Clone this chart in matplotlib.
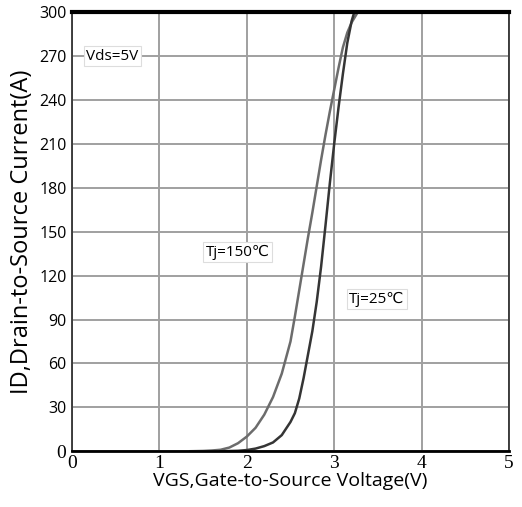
import matplotlib.pyplot as plt

# curve readings (VGS in V, ID in A)
vgs_150 = [1.35, 1.5, 1.6, 1.7, 1.8, 1.9, 2.0, 2.1, 2.2, 2.3, 2.4, 2.5, 2.55, 2.6, 2.65, 2.7,
           2.75, 2.8, 2.85, 2.9, 2.95, 3.0, 3.05, 3.1, 3.15, 3.2, 3.27]
id_150 = [0, 0.2, 0.5, 1, 2.5, 5.5, 10, 16, 25, 37, 53, 75, 92, 110, 128, 146,
          163, 181, 199, 216, 232, 247, 262, 276, 286, 293, 300]

vgs_25 = [1.7, 1.9, 2.0, 2.1, 2.2, 2.3, 2.4, 2.5, 2.55, 2.6, 2.65, 2.7, 2.75, 2.8, 2.85,
          2.9, 2.95, 3.0, 3.05, 3.1, 3.15, 3.2, 3.23]
id_25 = [0, 0.3, 0.8, 1.8, 3.5, 6, 11, 20, 26, 36, 50, 66, 82, 102, 126,
         154, 183, 210, 235, 258, 279, 294, 300]

x_ticks = [0, 1, 2, 3, 4, 5]
y_ticks = [0, 30, 60, 90, 120, 150, 180, 210, 240, 270, 300]

fig = plt.figure(figsize=(5.22, 5.07), dpi=100)
ax = fig.add_axes([0.138, 0.110, 0.837, 0.866])

ax.set_xlim(0, 5)
ax.set_ylim(0, 300)
ax.set_xticks(x_ticks)
ax.set_yticks(y_ticks)
ax.grid(True, color="#a0a0a0", linewidth=1.4)
ax.set_axisbelow(True)
ax.tick_params(length=0)

ax.plot(vgs_150, id_150, color="#6c6c6c", linewidth=1.8, solid_joinstyle="round")
ax.plot(vgs_25, id_25, color="#353535", linewidth=1.8, solid_joinstyle="round")

# tick labels: serif for x, sans for y (the y "0" is serif too)
ax.set_xticklabels([str(t) for t in x_ticks], family="Liberation Serif", fontsize=14)
ax.set_yticklabels([str(t) for t in y_ticks], family="Open Sans", fontsize=11.5)
ylabels = ax.get_yticklabels()
ylabels[0].set_family("Liberation Serif")
ylabels[0].set_fontsize(14)
ax.tick_params(axis="x", pad=3)
ax.tick_params(axis="y", pad=4)

for side in ["left", "right"]:
    ax.spines[side].set_linewidth(1.3)
    ax.spines[side].set_color("#333333")
ax.spines["top"].set_linewidth(3)
ax.spines["bottom"].set_linewidth(2)

ax.set_xlabel("VGS,Gate-to-Source Voltage(V)", family="Open Sans", fontsize=14, labelpad=0)
ax.set_ylabel("ID,Drain-to-Source Current(A)", family="Open Sans", fontsize=17, labelpad=4)

box = dict(boxstyle="square,pad=0.15", facecolor="white", edgecolor="#dddddd", linewidth=0.8)
ax.text(0.16, 270, "Vds=5V", family=["Open Sans", "DejaVu Sans"], fontsize=11, va="center", ha="left", bbox=box)
ax.text(1.53, 136, "Tj=150℃", family=["Open Sans", "DejaVu Sans"], fontsize=11, va="center", ha="left", bbox=box)
ax.text(3.17, 104, "Tj=25℃", family=["Open Sans", "DejaVu Sans"], fontsize=11, va="center", ha="left", bbox=box)

plt.savefig("out.png", dpi=100)
